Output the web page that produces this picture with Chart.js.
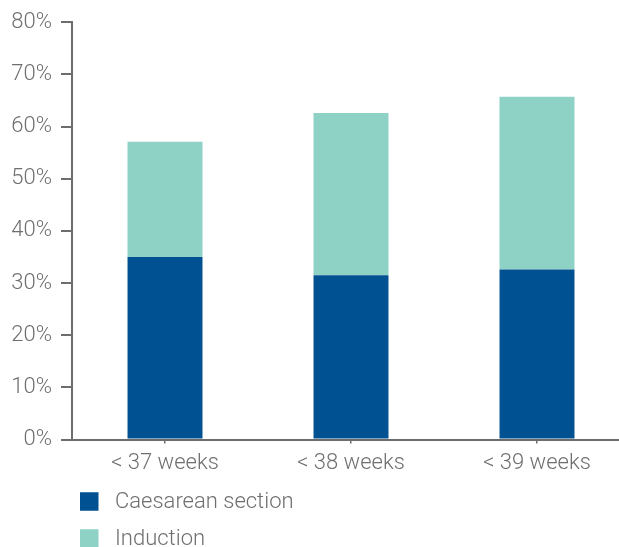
<!DOCTYPE html>
<html>
<head>
<meta charset="utf-8">
<script src="https://cdn.jsdelivr.net/npm/chart.js@4/dist/chart.umd.min.js"></script>
<style>
  html, body { margin: 0; padding: 0; background: #fff; overflow: hidden; }
  #wrap { position: relative; width: 632px; height: 547px; }
</style>
</head>
<body>
<div id="wrap"><canvas id="chart"></canvas></div>
<script>
// Gestational age groups and the share of births (%) by type of intervention
const categories = ['< 37 weeks', '< 38 weeks', '< 39 weeks'];
const caesareanSection = [35.0, 31.5, 32.6];
const induction = [22.1, 31.1, 33.1];
const yTicks = [0, 10, 20, 30, 40, 50, 60, 70, 80];

const TEXT = '#6f6f6f';
const AXIS = '#6d6d6d';
const FONT = { family: "Roboto, 'Liberation Sans', sans-serif", size: 22, weight: '300' };

// Vertical legend drawn under the x axis labels
const stackedLegend = {
  id: 'stackedLegend',
  afterDraw(chart) {
    const { ctx, chartArea } = chart;
    const x = chartArea.left + 8;
    let y = chartArea.bottom + 62;
    ctx.save();
    ctx.font = `${FONT.weight} ${FONT.size}px ${FONT.family}`;
    ctx.textBaseline = 'middle';
    ctx.textAlign = 'left';
    chart.data.datasets.forEach(ds => {
      ctx.fillStyle = ds.backgroundColor;
      ctx.fillRect(x, y - 9.25, 18.5, 18.5);
      ctx.fillStyle = TEXT;
      ctx.fillText(ds.label, x + 35, y + 1);
      y += 37;
    });
    ctx.restore();
  }
};

new Chart(document.getElementById('chart'), {
  type: 'bar',
  data: {
    labels: categories,
    datasets: [
      { label: 'Caesarean section', data: caesareanSection, backgroundColor: '#005192' },
      { label: 'Induction', data: induction, backgroundColor: '#8ed2c6' }
    ]
  },
  options: {
    responsive: true,
    maintainAspectRatio: false,
    animation: false,
    layout: { padding: { top: 21, right: 2, bottom: 67.5, left: 0 } },
    datasets: { bar: { barPercentage: 1, categoryPercentage: 0.403 } },
    plugins: { legend: { display: false }, tooltip: { enabled: false } },
    scales: {
      x: {
        stacked: true,
        afterFit(scale) { scale.height = 40; },
        grid: { display: true, offset: false, drawOnChartArea: false, drawTicks: true, tickLength: 4, color: AXIS, lineWidth: 1.5 },
        border: { display: true, color: AXIS, width: 2 },
        ticks: { color: TEXT, font: FONT, padding: 7 }
      },
      y: {
        stacked: true,
        min: 0,
        max: 80,
        afterFit(scale) { scale.width = 72; },
        afterBuildTicks(scale) { scale.ticks = yTicks.map(v => ({ value: v })); },
        grid: { display: true, drawOnChartArea: false, drawTicks: true, tickLength: 11, color: AXIS, lineWidth: 2 },
        border: { display: true, color: AXIS, width: 2 },
        ticks: { color: TEXT, font: FONT, padding: 9, callback: v => v + '%' }
      }
    }
  },
  plugins: [stackedLegend]
});
</script>
</body>
</html>
